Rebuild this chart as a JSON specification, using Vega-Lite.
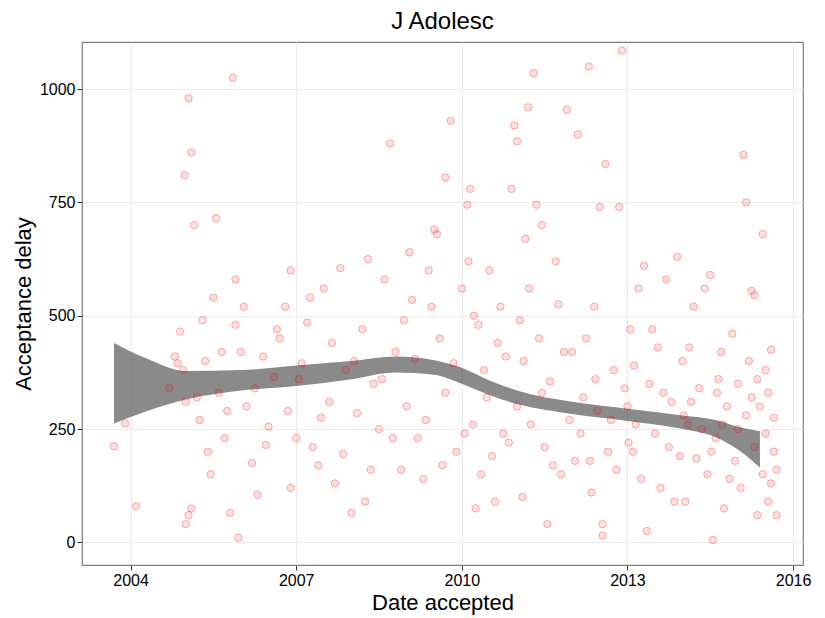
{
"$schema":"https://vega.github.io/schema/vega-lite/v6.json",
"autosize":{"type":"fit","contains":"padding"},
"width":825,"height":618,
"background":"white",
"padding":{"left":12,"right":15,"top":10,"bottom":5},
"title":{"text":"J Adolesc","fontSize":24,"font":"Liberation Sans","fontWeight":"normal","color":"black","anchor":"middle","offset":8},
"config":{"view":{"stroke":"#7f7f7f","strokeWidth":1.2},"axis":{"labelFont":"Liberation Sans","titleFont":"Liberation Sans","labelFontSize":16,"titleFontSize":22,"titleFontWeight":"normal","labelColor":"black","titleColor":"black","gridColor":"#ececec","domain":false,"tickColor":"#333"}},
"datasets":{
"band":[
{"x":2003.7,"lo":262,"hi":440},{"x":2004.3,"lo":290,"hi":405},{"x":2005,"lo":315,"hi":378},{"x":2006,"lo":335,"hi":380},{"x":2007,"lo":345,"hi":390},{"x":2008,"lo":360,"hi":400},{"x":2008.8,"lo":375,"hi":410},{"x":2009.5,"lo":370,"hi":402},{"x":2010,"lo":350,"hi":385},{"x":2010.5,"lo":325,"hi":357},{"x":2011,"lo":305,"hi":335},{"x":2012,"lo":283,"hi":310},{"x":2013,"lo":268,"hi":295},{"x":2014,"lo":250,"hi":280},{"x":2014.6,"lo":232,"hi":270},{"x":2015,"lo":205,"hi":255},{"x":2015.4,"lo":165,"hi":245}
],
"pts":[
{"x":2003.7,"y":212},{"x":2003.9,"y":262},{"x":2004.1,"y":80},{"x":2004.7,"y":340},{"x":2004.8,"y":410},{"x":2004.9,"y":465},{"x":2004.95,"y":380},{"x":2005.0,"y":40},{"x":2005.05,"y":60},{"x":2005.1,"y":75},{"x":2004.98,"y":810},{"x":2005.05,"y":980},{"x":2005.1,"y":860},{"x":2005.15,"y":700},{"x":2005.3,"y":490},{"x":2005.25,"y":270},{"x":2005.4,"y":200},{"x":2005.5,"y":540},{"x":2005.55,"y":715},{"x":2005.6,"y":330},{"x":2005.7,"y":230},{"x":2005.8,"y":65},{"x":2005.85,"y":1025},{"x":2005.9,"y":580},{"x":2005.9,"y":480},{"x":2005.95,"y":10},{"x":2006.0,"y":420},{"x":2006.1,"y":300},{"x":2006.2,"y":175},{"x":2006.3,"y":105},{"x":2006.4,"y":410},{"x":2006.5,"y":255},{"x":2006.6,"y":365},{"x":2006.7,"y":450},{"x":2006.8,"y":520},{"x":2006.9,"y":600},{"x":2006.9,"y":120},{"x":2007.0,"y":230},{"x":2007.1,"y":395},{"x":2007.2,"y":485},{"x":2007.3,"y":210},{"x":2007.4,"y":170},{"x":2007.5,"y":560},{"x":2007.6,"y":310},{"x":2007.7,"y":130},{"x":2007.8,"y":605},{"x":2007.9,"y":380},{"x":2008.0,"y":65},{"x":2008.1,"y":285},{"x":2008.2,"y":470},{"x":2008.25,"y":90},{"x":2008.3,"y":625},{"x":2008.4,"y":350},{"x":2008.5,"y":250},{"x":2008.6,"y":580},{"x":2008.7,"y":880},{"x":2008.8,"y":420},{"x":2008.9,"y":160},{"x":2009.0,"y":300},{"x":2009.05,"y":640},{"x":2009.1,"y":535},{"x":2009.2,"y":230},{"x":2009.3,"y":140},{"x":2009.4,"y":600},{"x":2009.5,"y":690},{"x":2009.55,"y":680},{"x":2009.6,"y":450},{"x":2009.7,"y":330},{"x":2009.7,"y":805},{"x":2009.8,"y":930},{"x":2009.9,"y":200},{"x":2010.0,"y":560},{"x":2010.1,"y":745},{"x":2010.15,"y":780},{"x":2010.2,"y":260},{"x":2010.25,"y":75},{"x":2010.3,"y":480},{"x":2010.4,"y":380},{"x":2010.5,"y":600},{"x":2010.55,"y":190},{"x":2010.6,"y":90},{"x":2010.7,"y":520},{"x":2010.75,"y":240},{"x":2010.8,"y":410},{"x":2010.9,"y":780},{"x":2010.95,"y":920},{"x":2011.0,"y":885},{"x":2011.0,"y":300},{"x":2011.1,"y":100},{"x":2011.15,"y":670},{"x":2011.2,"y":960},{"x":2011.3,"y":1035},{"x":2011.35,"y":745},{"x":2011.4,"y":450},{"x":2011.45,"y":700},{"x":2011.5,"y":210},{"x":2011.55,"y":40},{"x":2011.6,"y":355},{"x":2011.7,"y":620},{"x":2011.75,"y":525},{"x":2011.8,"y":150},{"x":2011.9,"y":955},{"x":2011.95,"y":270},{"x":2012.0,"y":420},{"x":2012.05,"y":180},{"x":2012.1,"y":900},{"x":2012.2,"y":320},{"x":2012.3,"y":1050},{"x":2012.35,"y":110},{"x":2012.4,"y":520},{"x":2012.5,"y":740},{"x":2012.55,"y":15},{"x":2012.55,"y":40},{"x":2012.6,"y":835},{"x":2012.7,"y":270},{"x":2012.75,"y":380},{"x":2012.8,"y":160},{"x":2012.85,"y":740},{"x":2012.9,"y":1085},{"x":2013.0,"y":300},{"x":2013.05,"y":470},{"x":2013.1,"y":200},{"x":2013.2,"y":560},{"x":2013.3,"y":610},{"x":2013.35,"y":25},{"x":2013.4,"y":350},{"x":2013.5,"y":240},{"x":2013.55,"y":430},{"x":2013.6,"y":120},{"x":2013.7,"y":580},{"x":2013.8,"y":310},{"x":2013.9,"y":630},{"x":2013.95,"y":190},{"x":2014.0,"y":400},{"x":2014.05,"y":90},{"x":2014.1,"y":260},{"x":2014.2,"y":520},{"x":2014.3,"y":340},{"x":2014.4,"y":560},{"x":2014.45,"y":150},{"x":2014.5,"y":590},{"x":2014.55,"y":5},{"x":2014.6,"y":230},{"x":2014.7,"y":420},{"x":2014.75,"y":75},{"x":2014.8,"y":300},{"x":2014.9,"y":460},{"x":2014.95,"y":180},{"x":2015.0,"y":350},{"x":2015.0,"y":250},{"x":2015.05,"y":120},{"x":2015.1,"y":855},{"x":2015.15,"y":750},{"x":2015.2,"y":400},{"x":2015.25,"y":555},{"x":2015.3,"y":545},{"x":2015.3,"y":210},{"x":2015.35,"y":60},{"x":2015.4,"y":300},{"x":2015.45,"y":680},{"x":2015.45,"y":150},{"x":2015.5,"y":380},{"x":2015.5,"y":240},{"x":2015.55,"y":330},{"x":2015.6,"y":425},{"x":2015.6,"y":130},{"x":2015.65,"y":275},{"x":2015.65,"y":200},{"x":2015.7,"y":160},{"x":2015.7,"y":60},
{"x":2006.05,"y":520},{"x":2006.25,"y":340},{"x":2006.45,"y":215},{"x":2006.65,"y":470},{"x":2006.85,"y":290},{"x":2007.05,"y":360},{"x":2007.25,"y":540},{"x":2007.45,"y":275},{"x":2007.65,"y":440},{"x":2007.85,"y":195},{"x":2008.05,"y":400},{"x":2008.35,"y":160},{"x":2008.55,"y":360},{"x":2008.75,"y":230},{"x":2008.95,"y":490},{"x":2009.15,"y":405},{"x":2009.35,"y":270},{"x":2009.45,"y":520},{"x":2009.65,"y":170},{"x":2009.85,"y":395},{"x":2010.05,"y":240},{"x":2010.35,"y":150},{"x":2010.45,"y":320},{"x":2010.65,"y":440},{"x":2010.85,"y":220},{"x":2011.05,"y":490},{"x":2011.25,"y":260},{"x":2011.45,"y":330},{"x":2011.65,"y":170},{"x":2011.85,"y":420},{"x":2012.15,"y":240},{"x":2012.25,"y":450},{"x":2012.45,"y":290},{"x":2012.65,"y":200},{"x":2012.95,"y":340},{"x":2013.15,"y":260},{"x":2013.25,"y":140},{"x":2013.45,"y":470},{"x":2013.65,"y":330},{"x":2013.75,"y":210},{"x":2013.85,"y":90},{"x":2014.15,"y":310},{"x":2014.25,"y":185},{"x":2014.35,"y":250},{"x":2014.65,"y":360},{"x":2014.85,"y":140},{"x":2015.15,"y":280},{"x":2015.25,"y":320},{"x":2015.35,"y":360},{"x":2015.55,"y":90},
{"x":2005.2,"y":320},{"x":2005.35,"y":400},{"x":2005.45,"y":150},{"x":2005.65,"y":420},{"x":2005.75,"y":290},{"x":2004.85,"y":395},{"x":2005.0,"y":310},{"x":2010.12,"y":620},{"x":2010.22,"y":500},{"x":2011.12,"y":400},{"x":2011.22,"y":560},{"x":2012.32,"y":180},{"x":2012.42,"y":360},{"x":2013.02,"y":220},{"x":2013.12,"y":390},{"x":2014.02,"y":280},{"x":2014.12,"y":430},{"x":2014.52,"y":200},{"x":2014.62,"y":330},{"x":2014.72,"y":260}
]},
"layer":[
{"data":{"name":"band"},"mark":{"type":"area","color":"#595959","opacity":0.7,"interpolate":"monotone"},
"encoding":{"x":{"field":"x","type":"quantitative"},"y":{"field":"lo","type":"quantitative"},"y2":{"field":"hi"}}},
{"data":{"name":"pts"},"mark":{"type":"point","shape":"circle","filled":false,"fill":"red","fillOpacity":0.12,"stroke":"red","strokeOpacity":0.3,"size":55,"strokeWidth":1},
"encoding":{"x":{"field":"x","type":"quantitative","title":"Date accepted","scale":{"domain":[2003.12,2016.18],"nice":false,"zero":false},"axis":{"values":[2004,2007,2010,2013,2016],"format":"d"}},
"y":{"field":"y","type":"quantitative","title":"Acceptance delay","scale":{"domain":[-50,1104],"nice":false},"axis":{"values":[0,250,500,750,1000],"format":"d"}}}}
]
}
